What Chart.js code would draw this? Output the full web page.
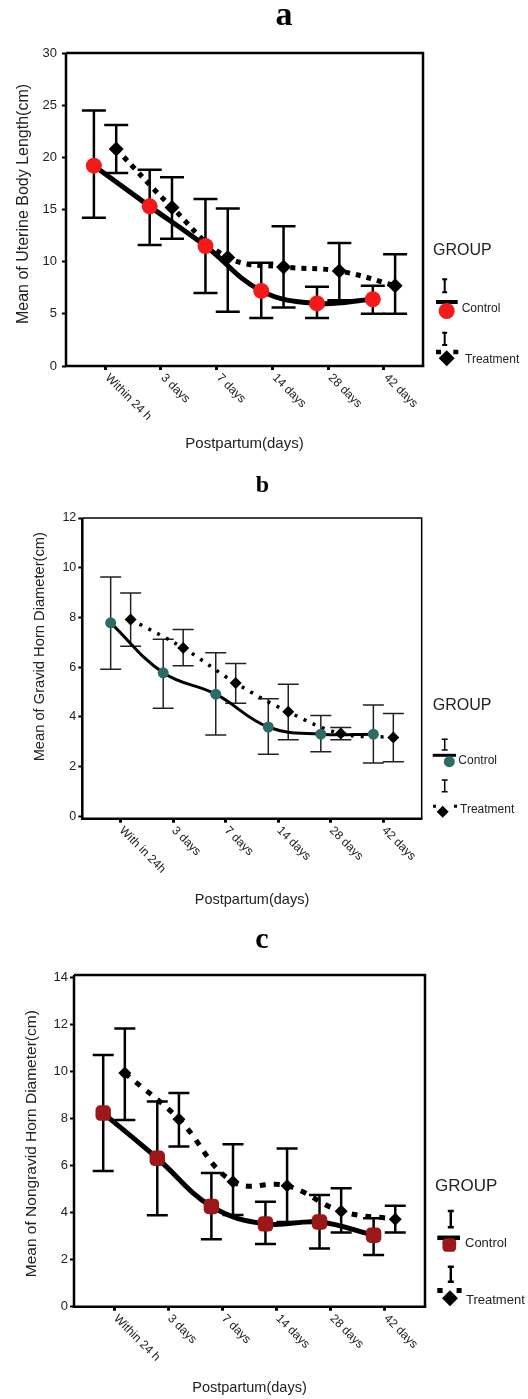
<!DOCTYPE html>
<html>
<head>
<meta charset="utf-8">
<script src="https://cdn.jsdelivr.net/npm/chart.js@4.4.1/dist/chart.umd.min.js"></script>
<style>
  html, body { margin: 0; padding: 0; background: #fff; }
  #wrap { position: relative; width: 528px; height: 1399px; }
  canvas { position: absolute; left: 0; }
</style>
</head>
<body>
<div id="wrap">
  <canvas id="chartA" width="528" height="460" style="top:0px"></canvas>
  <canvas id="chartB" width="528" height="460" style="top:460px"></canvas>
  <canvas id="chartC" width="528" height="479" style="top:920px"></canvas>
</div>
<script>
// Categorias (dias postparto) y grupos
const days = ["Within 24 h", "3 days", "7 days", "14 days", "28 days", "42 days"];
const daysB = ["With in 24h", "3 days", "7 days", "14 days", "28 days", "42 days"];
const groups = ["Control", "Treatment"];

// a - Uterine body length (cm)
const uterineControl = [19.2, 15.3, 11.5, 7.2, 6.0, 6.4];
const uterineControlLow = [14.2, 11.6, 7.0, 4.6, 4.6, 5.0];
const uterineControlHigh = [24.5, 18.8, 16.0, 9.9, 7.6, 7.7];
const uterineTreatment = [20.8, 15.2, 10.4, 9.5, 9.1, 7.7];
const uterineTreatmentLow = [18.5, 12.2, 5.2, 5.6, 6.3, 5.0];
const uterineTreatmentHigh = [23.1, 18.1, 15.1, 13.4, 11.8, 10.7];

// b - Gravid horn diameter (cm)
const gravidControl = [7.78, 5.77, 4.91, 3.59, 3.30, 3.30];
const gravidControlLow = [5.91, 4.34, 3.27, 2.49, 2.59, 2.14];
const gravidControlHigh = [9.63, 7.12, 6.58, 4.73, 4.05, 4.48];
const gravidTreatment = [7.92, 6.77, 5.36, 4.20, 3.33, 3.17];
const gravidTreatmentLow = [6.84, 6.05, 4.55, 3.08, 3.08, 2.19];
const gravidTreatmentHigh = [8.98, 7.51, 6.15, 5.31, 3.57, 4.13];

// c - Nongravid horn diameter (cm)
const nongravidControl = [8.23, 6.31, 4.26, 3.52, 3.60, 3.04];
const nongravidControlLow = [5.77, 3.89, 2.87, 2.67, 2.47, 2.20];
const nongravidControlHigh = [10.70, 8.72, 5.68, 4.46, 4.75, 3.76];
const nongravidTreatment = [9.93, 7.97, 5.31, 5.14, 4.06, 3.72];
const nongravidTreatmentLow = [7.94, 6.81, 3.9, 3.6, 3.15, 3.15];
const nongravidTreatmentHigh = [11.83, 9.08, 6.91, 6.72, 5.04, 4.29];

const SANS = '"Liberation Sans", Arial, sans-serif';
const SERIF = '"Liberation Serif", "Times New Roman", serif';

function points(values, shift) {
    return values.map((v, i) => ({ x: i + shift, y: v }));
}

// Barras de error (media +- IC), dibujadas con las escalas del grafico
const errorBarPlugin = {
    id: "errorBars",
    beforeDatasetsDraw(chart, args, opts) {
        const { ctx, scales: { x, y } } = chart;
        ctx.save();
        ctx.strokeStyle = opts.color;
        ctx.lineWidth = opts.width;
        chart.data.datasets.forEach(ds => {
            ds.data.forEach((pt, i) => {
                const px = x.getPixelForValue(pt.x);
                const top = y.getPixelForValue(ds.errHigh[i]);
                const bot = y.getPixelForValue(ds.errLow[i]);
                ctx.beginPath();
                ctx.moveTo(px, top); ctx.lineTo(px, bot);
                ctx.moveTo(px - opts.cap, top); ctx.lineTo(px + opts.cap, top);
                ctx.moveTo(px - opts.cap, bot); ctx.lineTo(px + opts.cap, bot);
                ctx.stroke();
            });
        });
        ctx.restore();
    }
};

function drawMarker(ctx, ds, x, y, r) {
    ctx.fillStyle = ds.pointBackgroundColor;
    if (Chart.helpers && Chart.helpers.drawPoint) {
        Chart.helpers.drawPoint(ctx, { pointStyle: ds.pointStyle, radius: r, rotation: 0, borderWidth: 0 }, x, y);
    } else {
        ctx.beginPath();
        ctx.arc(x, y, r, 0, Math.PI * 2);
        ctx.fill();
    }
}

// Marco, titulo, etiquetas giradas del eje x, titulo del eje y y leyenda GROUP
const decorPlugin = {
    id: "decor",
    afterDraw(chart, args, o) {
        const { ctx, chartArea: area, scales: { x } } = chart;
        ctx.save();

        // marco
        ctx.strokeStyle = "#000";
        ctx.lineWidth = o.frame[1];
        ctx.beginPath();
        ctx.moveTo(area.left, area.top); ctx.lineTo(area.right, area.top); ctx.lineTo(area.right, area.bottom);
        ctx.stroke();
        ctx.lineWidth = o.frame[0];
        ctx.beginPath();
        ctx.moveTo(area.left, area.top); ctx.lineTo(area.left, area.bottom); ctx.lineTo(area.right + o.frame[1] / 2, area.bottom);
        ctx.stroke();

        // titulo del panel
        ctx.fillStyle = "#000";
        ctx.font = `bold ${o.title.size}px ${SERIF}`;
        ctx.textAlign = "center";
        ctx.textBaseline = "alphabetic";
        ctx.fillText(o.title.text, o.title.x, o.title.y);

        // titulo del eje y
        ctx.save();
        ctx.fillStyle = "#222";
        ctx.font = `${o.yTitle.size}px ${SANS}`;
        ctx.translate(o.yTitle.x, o.yTitle.y);
        ctx.rotate(-Math.PI / 2);
        ctx.textBaseline = "middle";
        ctx.fillText(o.yTitle.text, 0, 0);
        ctx.restore();

        // etiquetas del eje x a 45 grados
        ctx.fillStyle = "#222";
        ctx.font = `${o.labelSize}px ${SANS}`;
        ctx.textAlign = "left";
        ctx.textBaseline = "middle";
        o.labels.forEach((lab, i) => {
            const px = x.getPixelForValue(i);
            ctx.save();
            ctx.translate(px + o.labelDx, area.bottom + o.labelDy);
            ctx.rotate(Math.PI / 4);
            ctx.fillText(lab, 0, 0);
            ctx.restore();
        });

        // leyenda
        const lg = o.legend;
        ctx.fillStyle = "#222";
        ctx.font = `${lg.groupSize}px ${SANS}`;
        ctx.textAlign = "left";
        ctx.textBaseline = "alphabetic";
        ctx.fillText("GROUP", lg.groupX, lg.groupY);
        lg.items.forEach((it, k) => {
            const ds = chart.data.datasets[k];
            ctx.strokeStyle = "#000";
            ctx.lineWidth = lg.barWidth;
            ctx.setLineDash([]);
            ctx.beginPath();
            ctx.moveTo(it.bar[0], it.bar[1]); ctx.lineTo(it.bar[0], it.bar[2]);
            ctx.moveTo(it.bar[0] - lg.cap, it.bar[1]); ctx.lineTo(it.bar[0] + lg.cap, it.bar[1]);
            ctx.moveTo(it.bar[0] - lg.cap, it.bar[2]); ctx.lineTo(it.bar[0] + lg.cap, it.bar[2]);
            ctx.stroke();
            ctx.lineWidth = it.line[3];
            ctx.setLineDash(it.dash || []);
            ctx.beginPath();
            ctx.moveTo(it.line[0], it.line[2]); ctx.lineTo(it.line[1], it.line[2]);
            ctx.stroke();
            ctx.setLineDash([]);
            drawMarker(ctx, ds, it.marker[0], it.marker[1], it.marker[2]);
            ctx.fillStyle = "#222";
            ctx.font = `${lg.textSize}px ${SANS}`;
            ctx.textBaseline = "middle";
            ctx.fillText(ds.label, it.text[0], it.text[1]);
            ctx.textBaseline = "alphabetic";
        });
        ctx.restore();
    }
};

function makeChart(id, p) {
    return new Chart(document.getElementById(id), {
        type: "line",
        data: {
            datasets: [
                {
                    label: groups[0],
                    data: points(p.control, -p.shift),
                    errLow: p.controlLow,
                    errHigh: p.controlHigh,
                    borderColor: "#000",
                    borderWidth: p.lineWidth,
                    tension: 0.4,
                    fill: false,
                    pointStyle: p.controlStyle,
                    pointRadius: p.controlRadius,
                    pointBackgroundColor: p.controlColor,
                    pointBorderWidth: 0
                },
                {
                    label: groups[1],
                    data: points(p.treatment, p.shift),
                    errLow: p.treatmentLow,
                    errHigh: p.treatmentHigh,
                    borderColor: "#000",
                    borderWidth: p.dotWidth,
                    borderDash: p.dash,
                    borderCapStyle: "butt",
                    tension: 0.4,
                    fill: false,
                    pointStyle: "rectRot",
                    pointRadius: p.diamondRadius,
                    pointBackgroundColor: "#000",
                    pointBorderWidth: 0
                }
            ]
        },
        options: {
            responsive: false,
            animation: false,
            events: [],
            devicePixelRatio: 1,
            layout: { padding: { left: 0, top: p.area.top, right: p.width - p.area.right, bottom: 0 } },
            scales: {
                x: {
                    type: "linear",
                    min: p.xMin,
                    max: p.xMax,
                    afterFit: s => { s.height = p.height - p.area.bottom; },
                    ticks: { display: false, stepSize: 1, includeBounds: false },
                    grid: { drawOnChartArea: false, tickLength: 4, tickWidth: 3, color: "#000" },
                    border: { display: false },
                    title: {
                        display: true,
                        text: "Postpartum(days)",
                        color: "#222",
                        font: { family: SANS, size: p.xTitleSize },
                        padding: { top: 0, bottom: p.xTitlePad }
                    }
                },
                y: {
                    min: p.yMin,
                    max: p.yMax,
                    afterFit: s => { s.width = p.area.left; },
                    ticks: {
                        stepSize: p.yStep,
                        includeBounds: false,
                        color: "#222",
                        padding: p.yTickPad,
                        font: { family: SANS, size: p.yTickSize }
                    },
                    grid: { drawOnChartArea: false, tickLength: 4, tickWidth: 2, color: "#000" },
                    border: { display: false }
                }
            },
            plugins: {
                legend: { display: false },
                tooltip: { enabled: false },
                errorBars: { color: p.barColor, width: p.barWidth, cap: p.cap },
                decor: p.decor
            }
        },
        plugins: [errorBarPlugin, decorPlugin]
    });
}

// Panel a
makeChart("chartA", {
    width: 528, height: 460,
    area: { left: 66, top: 53, right: 423, bottom: 366 },
    xMin: -0.7, xMax: 5.7, yMin: 0, yMax: 30, yStep: 5,
    yTickSize: 13, yTickPad: 5, xTitleSize: 15, xTitlePad: 7,
    shift: 0.2,
    control: uterineControl, controlLow: uterineControlLow, controlHigh: uterineControlHigh,
    treatment: uterineTreatment, treatmentLow: uterineTreatmentLow, treatmentHigh: uterineTreatmentHigh,
    lineWidth: 5, dotWidth: 5, dash: [5, 6],
    controlStyle: "circle", controlRadius: 8, controlColor: "#f51a1a", diamondRadius: 7.5,
    barColor: "#000", barWidth: 2.5, cap: 12,
    decor: {
        frame: [2.5, 2.5],
        title: { text: "a", x: 284, y: 25, size: 34 },
        yTitle: { text: "Mean of Uterine Body Length(cm)", x: 23.5, y: 204, size: 16 },
        labels: days, labelSize: 12, labelDx: 2, labelDy: 10,
        legend: {
            groupX: 433, groupY: 255, groupSize: 16, textSize: 12, barWidth: 2, cap: 2.5,
            items: [
                { bar: [444.7, 279.3, 292.3], line: [436, 457.7, 302, 4], marker: [446.7, 311, 8], text: [461.7, 309] },
                { bar: [444.7, 332.7, 345], line: [436, 458.3, 352, 4.5], dash: [5, 12.3, 5], marker: [446.7, 358.3, 8], text: [465, 359.3] }
            ]
        }
    }
});

// Panel b
makeChart("chartB", {
    width: 528, height: 460,
    area: { left: 82.3, top: 58, right: 421.7, bottom: 358.7 },
    xMin: -0.73, xMax: 5.73, yMin: -0.1, yMax: 12, yStep: 2,
    yTickSize: 12.5, yTickPad: 2, xTitleSize: 14.5, xTitlePad: 11,
    shift: 0.19,
    control: gravidControl, controlLow: gravidControlLow, controlHigh: gravidControlHigh,
    treatment: gravidTreatment, treatmentLow: gravidTreatmentLow, treatmentHigh: gravidTreatmentHigh,
    lineWidth: 3, dotWidth: 3.5, dash: [3, 7],
    controlStyle: "circle", controlRadius: 5.5, controlColor: "#2c6b68", diamondRadius: 6,
    barColor: "#222", barWidth: 1.5, cap: 10.5,
    decor: {
        frame: [2.5, 1.5],
        title: { text: "b", x: 262.3, y: 31.7, size: 24 },
        yTitle: { text: "Mean of Gravid Horn Diameter(cm)", x: 40, y: 186.7, size: 14.7 },
        labels: daysB, labelSize: 12, labelDx: 0.5, labelDy: 10,
        legend: {
            groupX: 432.7, groupY: 250, groupSize: 16, textSize: 12, barWidth: 1.5, cap: 3,
            items: [
                { bar: [444.7, 279.3, 290], line: [432.7, 456, 295.3, 3], marker: [449.3, 301.7, 5.5], text: [458.3, 301] },
                { bar: [444.7, 320, 331.7], line: [433, 457, 346.3, 3], dash: [3, 18, 3], marker: [442.7, 351.7, 6], text: [460, 350] }
            ]
        }
    }
});

// Panel c
makeChart("chartC", {
    width: 528, height: 479,
    area: { left: 74, top: 55, right: 425, bottom: 386.7 },
    xMin: -0.74, xMax: 5.75, yMin: 0, yMax: 14.1, yStep: 2,
    yTickSize: 13, yTickPad: 2, xTitleSize: 14.5, xTitlePad: 2,
    shift: 0.2,
    control: nongravidControl, controlLow: nongravidControlLow, controlHigh: nongravidControlHigh,
    treatment: nongravidTreatment, treatmentLow: nongravidTreatmentLow, treatmentHigh: nongravidTreatmentHigh,
    lineWidth: 5, dotWidth: 5, dash: [6, 8],
    controlStyle: "rectRounded", controlRadius: 9, controlColor: "#9c1717", diamondRadius: 6.5,
    barColor: "#000", barWidth: 2.5, cap: 10.5,
    decor: {
        frame: [2.5, 2.5],
        title: { text: "c", x: 262, y: 28.3, size: 30 },
        yTitle: { text: "Mean of Nongravid Horn Diameter(cm)", x: 31.7, y: 223.7, size: 15.5 },
        labels: days, labelSize: 12, labelDx: 1.5, labelDy: 10,
        legend: {
            groupX: 435, groupY: 270.5, groupSize: 17, textSize: 13, barWidth: 2.5, cap: 3,
            items: [
                { bar: [450.8, 291, 307.3], line: [437.3, 460, 317.8, 4.5], marker: [449.3, 325, 8], text: [465, 323.3] },
                { bar: [450.8, 346.7, 361.7], line: [437.3, 461.7, 370.5, 5], dash: [5.3, 14, 5], marker: [450, 378.3, 8], text: [466, 380] }
            ]
        }
    }
});
</script>
</body>
</html>
